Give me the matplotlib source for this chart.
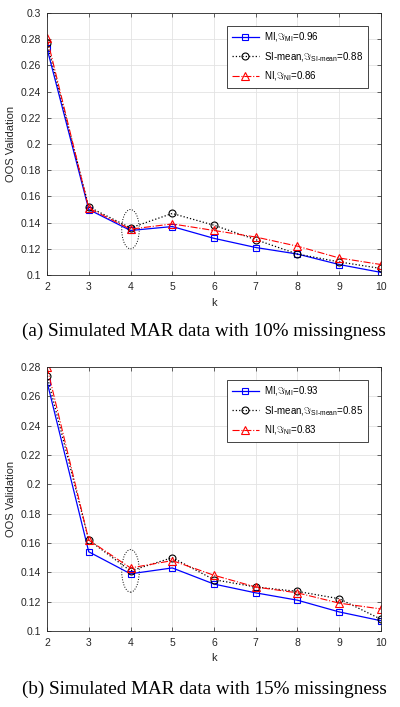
import numpy as np
import matplotlib
matplotlib.use('Agg')
import matplotlib.pyplot as plt
from matplotlib.patches import Ellipse

plt.rcParams['font.family'] = ['Liberation Sans', 'DejaVu Sans']
plt.rcParams['mathtext.fontset'] = 'custom'
plt.rcParams['mathtext.rm'] = 'Liberation Sans'
plt.rcParams['mathtext.it'] = 'Liberation Sans'

k = [2, 3, 4, 5, 6, 7, 8, 9, 10]

# (a) 10% missingness
mi_a = [0.273, 0.150, 0.134, 0.137, 0.128, 0.121, 0.116, 0.108, 0.102]
si_a = [0.277, 0.152, 0.136, 0.147, 0.138, 0.127, 0.116, 0.110, 0.105]
ni_a = [0.281, 0.151, 0.135, 0.139, 0.134, 0.129, 0.122, 0.113, 0.108]
lab_a = ['0.96', '0.88', '0.86']

# (b) 15% missingness
mi_b = [0.270, 0.154, 0.139, 0.143, 0.132, 0.126, 0.121, 0.113, 0.107]
si_b = [0.274, 0.162, 0.141, 0.150, 0.135, 0.130, 0.127, 0.122, 0.108]
ni_b = [0.280, 0.162, 0.143, 0.148, 0.138, 0.130, 0.126, 0.119, 0.115]
lab_b = ['0.93', '0.85', '0.83']

GRAY = '#262626'


def draw(ax, mi, si, ni, labs, ylim, yticks, ell):
    ax.plot(k, mi, '-', color='b', lw=0.9, marker='s', ms=5, mfc='none', mew=0.8,
            label=r'MI,$\Im_{\mathrm{MI}}$=' + labs[0])
    ax.plot(k, si, ':', color='k', lw=0.9, marker='o', ms=5, mfc='none', mew=0.8,
            label=r'SI-mean,$\Im_{\mathrm{SI\text{-}mean}}$=' + labs[1])
    ax.plot(k, ni, '-.', color='r', lw=0.8, marker='^', ms=5.5, mfc='none', mew=0.8,
            label=r'NI,$\Im_{\mathrm{NI}}$=' + labs[2])
    ax.add_patch(Ellipse(ell[0], ell[1], ell[2], fill=False, ls=':', lw=0.7, color='k'))
    ax.set_xlim(2, 10)
    ax.set_ylim(*ylim)
    ax.set_xticks(k)
    ax.set_yticks(yticks)
    ax.set_yticklabels(['%g' % t for t in yticks])
    ax.grid(True, color='#e3e3e3', lw=0.6)
    ax.set_axisbelow(True)
    ax.tick_params(direction='in', top=True, right=True, labelsize=7.5,
                   colors=GRAY, length=3, width=0.5)
    ax.tick_params(axis='x', pad=5)
    ax.tick_params(axis='y', pad=4.5)
    for s in ax.spines.values():
        s.set_color(GRAY)
        s.set_linewidth(0.6)
    ax.set_xlabel('k', fontsize=8, color=GRAY, labelpad=4)
    ax.set_ylabel('OOS Validation', fontsize=8, color=GRAY, labelpad=3)
    leg = ax.legend(loc='upper right', bbox_to_anchor=(0.975, 0.97), fontsize=7,
                    fancybox=False, edgecolor=GRAY, framealpha=1, handlelength=2.8,
                    handletextpad=0.5, borderpad=0.5, labelspacing=0.6)
    leg.get_frame().set_linewidth(0.6)


fig = plt.figure(figsize=(4.0, 7.07), dpi=100)
ax1 = fig.add_axes([0.1175, 0.611, 0.835, 0.3706])
ax2 = fig.add_axes([0.1175, 0.1075, 0.835, 0.3734])

draw(ax1, mi_a, si_a, ni_a, lab_a, (0.1, 0.3), np.round(np.arange(0.1, 0.301, 0.02), 2),
     ((4, 0.135), 0.42, 0.03))
draw(ax2, mi_b, si_b, ni_b, lab_b, (0.1, 0.28), np.round(np.arange(0.1, 0.281, 0.02), 2),
     ((4, 0.141), 0.42, 0.029))

fig.text(0.511, 0.532, '(a) Simulated MAR data with 10% missingness', ha='center',
         va='center', fontsize=13.8, family='Liberation Serif')
fig.text(0.511, 0.0255, '(b) Simulated MAR data with 15% missingness', ha='center',
         va='center', fontsize=13.8, family='Liberation Serif')

fig.savefig('out.png', dpi=100)
